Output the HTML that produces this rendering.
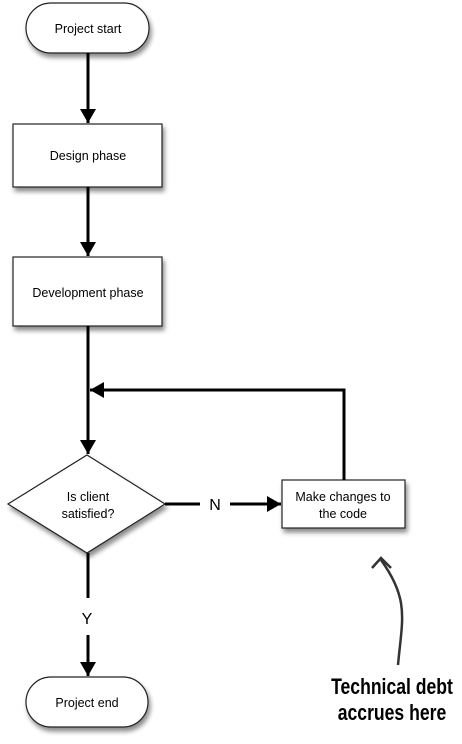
<!DOCTYPE html>
<html><head><style>
body{margin:0;background:#fff;width:462px;height:744px;overflow:hidden}
svg{display:block}
</style></head><body>
<svg width="462" height="744" viewBox="0 0 462 744" xmlns="http://www.w3.org/2000/svg">
<defs>
<filter id="sh" x="-20%" y="-20%" width="150%" height="160%"><feDropShadow dx="2" dy="4" stdDeviation="2.5" flood-color="#000" flood-opacity="0.45"/></filter>
<marker id="ab" viewBox="0 0 14 16" markerWidth="14" markerHeight="16" refX="14" refY="8" orient="auto" markerUnits="userSpaceOnUse"><path d="M0,0 L14,8 L0,16z" fill="#000"/></marker>
</defs>
<g fill="#fff" stroke="#222" stroke-width="1.2" filter="url(#sh)">
<rect x="26" y="3" width="123" height="50" rx="25"/>
<rect x="13" y="124" width="149" height="63"/>
<rect x="13" y="257" width="149" height="69"/>
<polygon points="87,455 165,504 87,553 8,504"/>
<rect x="282" y="480" width="123" height="48"/>
<rect x="26" y="677" width="122" height="50" rx="25"/>
</g>
<g stroke="#000" stroke-width="3" fill="none">
<line x1="88" y1="53" x2="88" y2="123" marker-end="url(#ab)"/>
<line x1="88" y1="187" x2="88" y2="256" marker-end="url(#ab)"/>
<line x1="88" y1="326" x2="88" y2="454" marker-end="url(#ab)"/>
<polyline points="344,480 344,390 90,390" marker-end="url(#ab)"/>
<line x1="165" y1="504" x2="200" y2="504"/>
<line x1="230" y1="504" x2="281" y2="504" marker-end="url(#ab)"/>
<line x1="88" y1="553" x2="88" y2="598"/>
<line x1="88" y1="635" x2="88" y2="676" marker-end="url(#ab)"/>
</g>
<path d="M398,665 C402,620 410,600 381,560" stroke="#333" stroke-width="2.5" fill="none"/>
<path d="M372,568 L381,558 L391,568" stroke="#333" stroke-width="2.5" fill="none"/>
<g font-family="Liberation Sans, sans-serif" font-size="12.5" fill="#000" text-anchor="middle">
<text x="88" y="33">Project start</text>
<text x="88" y="160">Design phase</text>
<text x="88" y="297">Development phase</text>
<text x="88" y="501">Is client</text>
<text x="88" y="518">satisfied?</text>
<text x="343" y="501">Make changes to</text>
<text x="343" y="518">the code</text>
<text x="87" y="707">Project end</text>
<text x="215" y="510" font-size="16">N</text>
<text x="87" y="624" font-size="16">Y</text>
</g>
<g font-family="Liberation Sans, sans-serif" font-size="22" font-weight="bold" fill="#000" text-anchor="middle" transform="scale(0.8,1)">
<text x="490" y="694">Technical debt</text>
<text x="490" y="720">accrues here</text>
</g>
</svg>
</body></html>
